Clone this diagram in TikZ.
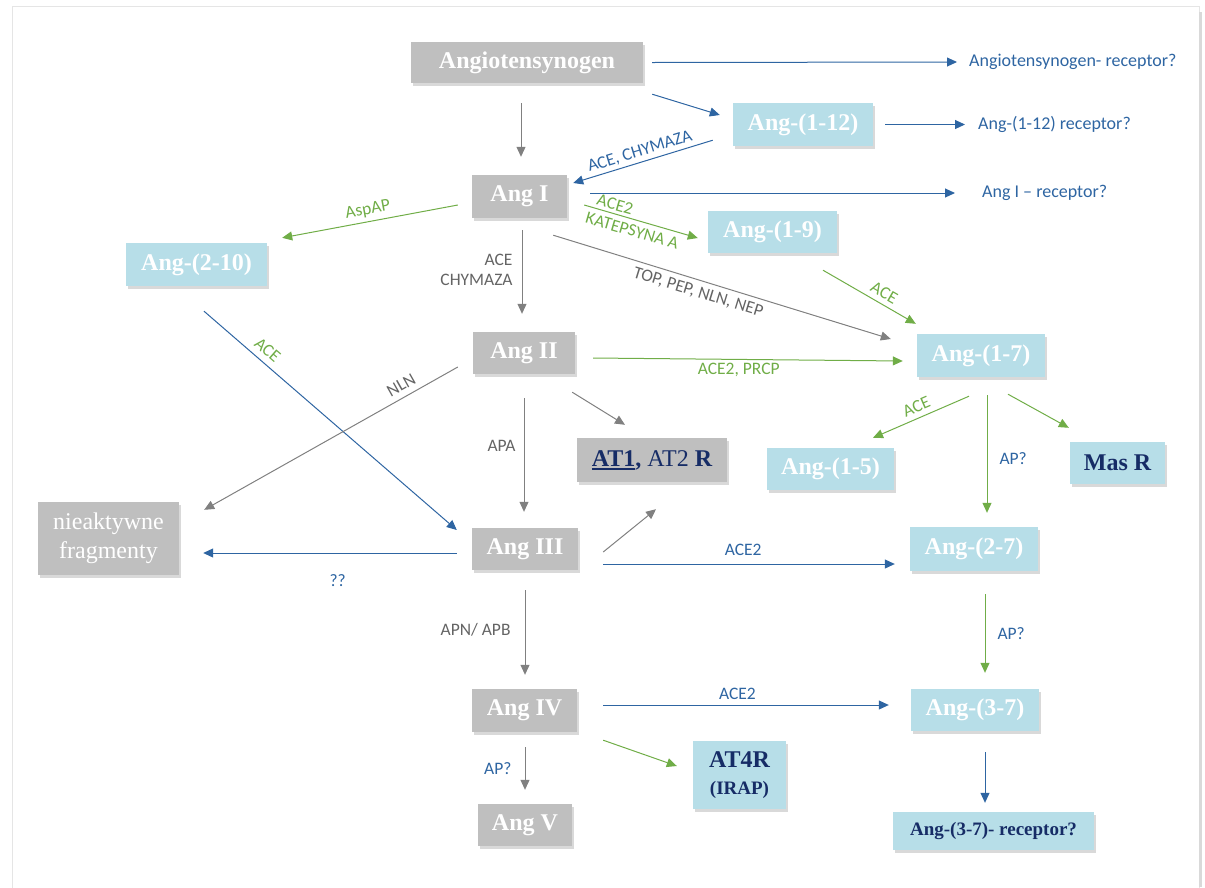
\documentclass[tikz,border=0pt]{standalone}
\usepackage{fontspec}
\setmainfont{Liberation Serif}
\newfontfamily\lblfont{Carlito}
\usetikzlibrary{arrows.meta,calc,shadows}

\definecolor{boxgrey}{RGB}{191,191,191}
\definecolor{boxblue}{RGB}{183,222,232}
\definecolor{navy}{RGB}{22,44,102}
\definecolor{arrblue}{RGB}{46,101,162}
\definecolor{arrgreen}{RGB}{112,173,71}
\definecolor{arrgrey}{RGB}{128,128,128}
\definecolor{txtgrey}{RGB}{100,100,100}

\newcommand{\thickul}[1]{\setbox0\hbox{#1}\rlap{\rule[-3.5pt]{\wd0}{2pt}}\box0}

\begin{document}
\begin{tikzpicture}[x=1pt,y=-1pt,
    box/.style={inner sep=0pt,text=white,font=\fontsize{24}{28}\selectfont\bfseries,
        drop shadow={shadow xshift=1.5pt,shadow yshift=-2.5pt,opacity=0.3}},
    greybox/.style={box,fill=boxgrey},
    bluebox/.style={box,fill=boxblue},
    lbl/.style={font=\lblfont\fontsize{17.5}{20}\selectfont,inner sep=2pt},
    recep/.style={font=\lblfont\fontsize{18}{20}\selectfont,text=arrblue,anchor=west,inner sep=0pt},
    conn/.style={line width=1pt,-{Triangle[length=10pt,width=9pt]}},
    blueconn/.style={conn,draw=arrblue},
    greenconn/.style={conn,draw=arrgreen},
    greyconn/.style={conn,draw=arrgrey}
]
\useasboundingbox (0,0) rectangle (1205,887);

% Frame
\draw[black!10] (12,6) rectangle (1199,895);
\fill[black!15] (1199,12) rectangle (1202,887);

% Grey boxes
\node[greybox,minimum width=232pt,minimum height=41pt] (agt) at (527,62.5) {Angiotensynogen};
\node[greybox,minimum width=95pt,minimum height=43pt] (ang1) at (519.5,196.5) {Ang I};
\node[greybox,minimum width=102pt,minimum height=42pt] (ang2) at (524,353) {Ang II};
\node[greybox,minimum width=106pt,minimum height=42pt] (ang3) at (525,549) {Ang III};
\node[greybox,minimum width=105pt,minimum height=43pt] (ang4) at (524.5,710.5) {Ang IV};
\node[greybox,minimum width=94pt,minimum height=42pt] (ang5) at (525,825) {Ang V};
\node[greybox,minimum width=150pt,minimum height=44pt,text=navy] (at12) at (652,460)
    {\thickul{AT1}, {\mdseries AT2} R};
\node[greybox,minimum width=141pt,minimum height=73pt,align=center,
    font=\fontsize{24}{29}\selectfont] (frag) at (108.5,538.5) {nieaktywne\\fragmenty};

% Blue boxes
\node[bluebox,minimum width=140pt,minimum height=43pt] (a112) at (803,124.5) {Ang-(1-12)};
\node[bluebox,minimum width=129pt,minimum height=42pt] (a19) at (772.5,232) {Ang-(1-9)};
\node[bluebox,minimum width=141pt,minimum height=43pt] (a210) at (196.5,264.5) {Ang-(2-10)};
\node[bluebox,minimum width=128pt,minimum height=43pt] (a17) at (981,355.5) {Ang-(1-7)};
\node[bluebox,minimum width=127pt,minimum height=42pt] (a15) at (830.5,469) {Ang-(1-5)};
\node[bluebox,minimum width=95pt,minimum height=42pt,text=navy] (masr) at (1117.5,463) {Mas R};
\node[bluebox,minimum width=128pt,minimum height=44pt] (a27) at (974,549) {Ang-(2-7)};
\node[bluebox,minimum width=128pt,minimum height=42pt] (a37) at (975,710) {Ang-(3-7)};
\node[bluebox,minimum width=93pt,minimum height=68pt,text=navy,align=center,
    font=\fontsize{24}{27}\selectfont\bfseries] (at4r) at (739.5,775)
    {AT4R\\{\fontsize{19}{27}\selectfont(IRAP)}};
\node[bluebox,minimum width=201pt,minimum height=38pt,text=navy,
    font=\fontsize{19}{22}\selectfont\bfseries] (r37) at (993.5,831) {Ang-(3-7)- receptor?};

% Receptor texts
\node[recep] (ragt) at (969,62) {Angiotensynogen- receptor?};
\node[recep] (r112) at (978,124.5) {Ang-(1-12) receptor?};
\node[recep] (rang1) at (982,193) {Ang I \textendash{} receptor?};

% Angiotensynogen
\draw[blueconn] ($(agt.east)+(9,0)$) -- ($(ragt.west)+(-12,0)$);
\draw[blueconn] ($(agt.south east)+(9,11)$) -- ($(a112.west)+(-13,-9.5)$);
\draw[greyconn] ($(agt.south)+(-6,20)$) -- ($(ang1.north)+(1.5,-18)$);

% Ang-(1-12)
\draw[blueconn] ($(a112.east)+(12,0)$) -- ($(r112.west)+(-13,0)$);
\draw[blueconn] ($(a112.south west)+(-20,-6)$) --
    node[lbl,text=arrblue,sloped,above=1pt] {ACE, CHYMAZA} ($(ang1.east)+(6,-13.5)$);

% Ang I
\draw[blueconn] ($(ang1.east)+(23,-3.5)$) -- ($(rang1.west)+(-27,0)$);
\draw[greenconn] ($(ang1.east)+(17,8.5)$) --
    node[lbl,text=arrgreen,sloped,above=1pt,pos=.25] {ACE2}
    node[lbl,text=arrgreen,sloped,below=3pt,pos=.45] {KATEPSYNA A} ($(a19.west)+(-10,6)$);
\draw[greenconn] ($(ang1.west)+(-14,8.5)$) --
    node[lbl,text=arrgreen,sloped,above=2pt] {AspAP} ($(a210.north east)+(15,-5)$);
\draw[greyconn] ($(ang1.south)+(2.5,12)$) --
    node[lbl,text=txtgrey,left=7pt,align=right,pos=.48] {ACE\\CHYMAZA} ($(ang2.north)+(-2,-18)$);
\draw[greyconn] ($(ang1.south east)+(-14,17)$) --
    node[lbl,text=txtgrey,sloped,below=3pt,pos=.44] {TOP, PEP, NLN, NEP} ($(a17.west)+(-26,-16.5)$);

% Ang-(1-9)
\draw[greenconn] ($(a19.south)+(50.5,17)$) --
    node[lbl,text=arrgreen,sloped,above=3pt,pos=.6] {ACE} ($(a17.north west)+(-1,-10)$);

% Ang-(2-10)
\draw[blueconn] ($(a210.south)+(7.5,25)$) --
    node[lbl,text=arrgreen,sloped,above=4pt,pos=.22] {ACE} ($(ang3.west)+(-15,-19)$);

% Ang II
\draw[greenconn] ($(ang2.east)+(18,5)$) --
    node[lbl,text=arrgreen,below=1pt,pos=.47] {ACE2, PRCP} ($(a17.west)+(-14,5.5)$);
\draw[greyconn] ($(ang2.west)+(-15,14)$) --
    node[lbl,text=txtgrey,sloped,above=4pt,pos=.2] {NLN} ($(frag.north east)+(25,8)$);
\draw[greyconn] ($(ang2.south east)+(-3,18)$) -- ($(at12.north)+(-27,-13)$);
\draw[greyconn] ($(ang2.south)+(0,24)$) --
    node[lbl,text=txtgrey,left=6pt,pos=.42] {APA} ($(ang3.north)+(-1,-16)$);

% Ang-(1-7)
\draw[greenconn] ($(a17.south)+(-12,19)$) --
    node[lbl,text=arrgreen,sloped,above=3pt] {ACE} ($(a15.north)+(42.5,-10)$);
\draw[greenconn] ($(a17.south)+(6,18)$) --
    node[lbl,text=arrblue,right=10pt,pos=.54] {AP?} ($(a27.north)+(13,-14)$);
\draw[greenconn] ($(a17.south)+(27,17)$) -- ($(masr.north west)+(-1,-14)$);

% Ang III
\draw[blueconn] ($(ang3.west)+(-15,4)$) --
    node[lbl,text=arrblue,below=19pt,pos=.47] {??} ($(frag.east)+(24,14.5)$);
\draw[greyconn] ($(ang3.east)+(25,3)$) -- ($(at12.south)+(4,27)$);
\draw[blueconn] ($(ang3.east)+(25,15)$) --
    node[lbl,text=arrblue,above=6pt,pos=.48] {ACE2} ($(a27.west)+(-15,15)$);
\draw[greyconn] ($(ang3.south)+(0,20)$) --
    node[lbl,text=txtgrey,left=12pt,pos=.47] {APN/ APB} ($(ang4.north)+(0.5,-14)$);

% Ang-(2-7)
\draw[greenconn] ($(a27.south)+(11,23)$) --
    node[lbl,text=arrblue,right=10pt] {AP?} ($(a37.north)+(10,-16)$);

% Ang IV
\draw[blueconn] ($(ang4.east)+(26,-5.5)$) --
    node[lbl,text=arrblue,above=3pt,pos=.47] {ACE2} ($(a37.west)+(-22,-5)$);
\draw[greenconn] ($(ang4.south east)+(26,8)$) -- ($(at4r.west)+(-16,-9)$);
\draw[greyconn] ($(ang4.south)+(0.5,15)$) --
    node[lbl,text=arrblue,left=11pt] {AP?} ($(ang5.north)+(0,-14)$);

% Ang-(3-7)
\draw[blueconn] ($(a37.south)+(10,21)$) -- ($(r37.north)+(-8.5,-9)$);

\end{tikzpicture}
\end{document}
